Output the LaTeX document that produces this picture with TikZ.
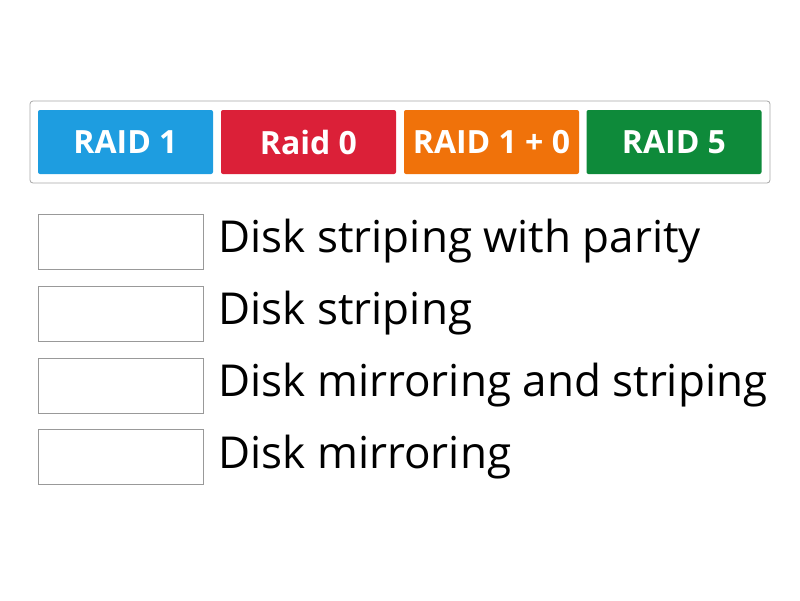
\documentclass[tikz,border=0pt]{standalone}
\usepackage{fontspec}
\setmainfont{Open Sans}
\usetikzlibrary{positioning}
\definecolor{raidblue}{HTML}{1E9DE0}
\definecolor{raidred}{HTML}{DB2038}
\definecolor{raidorange}{HTML}{F0720A}
\definecolor{raidgreen}{HTML}{0E8A3A}
\tikzset{
  btn/.style={draw=none, fill=#1, rounded corners=2pt, minimum width=175pt, minimum height=64pt,
    text=white, font=\fontsize{32}{34}\selectfont\bfseries, inner sep=0pt},
  slot/.style={draw=gray!80, line width=0.8pt, minimum width=165pt, minimum height=55pt, inner sep=0pt},
  desc/.style={anchor=west, font=\fontsize{44}{46}\selectfont, inner sep=0pt}
}
\begin{document}
\begin{tikzpicture}[x=1pt,y=-1pt]
  \useasboundingbox (0,0) rectangle (800,600);
  \draw[gray!70, line width=0.8pt, rounded corners=3pt] (30,101) rectangle (770,183);

  \node[btn=raidblue] (r1) at (125.5,142) {RAID 1};
  \node[btn=raidred] (r0) at (308.5,142) {Raid 0};
  \node[btn=raidorange] (r10) at (491.5,142) {RAID 1 + 0};
  \node[btn=raidgreen] (r5) at (674,142) {RAID 5};

  \node[slot] (s1) at (120.5,241.5) {};
  \node[slot] (s2) at (120.5,313.5) {};
  \node[slot] (s3) at (120.5,385.5) {};
  \node[slot] (s4) at (120.5,457) {};

  \node[desc, right=15pt of s1] (d1) {Disk striping with parity};
  \node[desc, right=15pt of s2] (d2) {Disk striping};
  \node[desc, right=15pt of s3] (d3) {Disk mirroring and striping};
  \node[desc, right=15pt of s4] (d4) {Disk mirroring};
\end{tikzpicture}
\end{document}
